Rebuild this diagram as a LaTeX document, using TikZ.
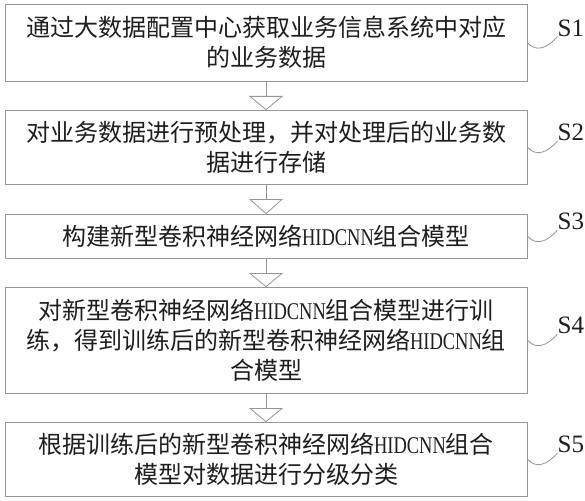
\documentclass[tikz,border=0pt]{standalone}
\usepackage{fontspec}
\setmainfont{Liberation Serif}
\newfontfamily\cjk{Noto Sans CJK SC}
\newfontfamily\latn[FakeStretch=0.77]{Liberation Serif}
\usetikzlibrary{calc}
\definecolor{lin}{RGB}{150,150,150}
\definecolor{txt}{RGB}{30,30,30}
\newcommand{\hid}{{\latn HIDCNN}}
\begin{document}
\begin{tikzpicture}[x=1pt,y=-1pt,
  box/.style={draw=lin, line width=0.8pt, minimum width=522pt, inner sep=0pt, align=center, font=\cjk\fontsize{24}{30}\selectfont, text=txt},
  conn/.style={draw=lin, line width=0.8pt},
  slabel/.style={inner sep=0pt, font=\fontsize{25}{25}\selectfont, text=txt}]
\useasboundingbox (0,0) rectangle (585,500);
\fill[white] (0,0) rectangle (585,500);
\node[box, minimum height=77pt] (b1) at (266,42.5) {通过大数据配置中心获取业务信息系统中对应\\的业务数据};
\node[box, minimum height=74pt] (b2) at (266,147) {对业务数据进行预处理，并对处理后的业务数\\据进行存储};
\node[box, minimum height=44pt] (b3) at (266,236) {构建新型卷积神经网络\hid 组合模型};
\node[box, minimum height=106pt] (b4) at (266,340) {对新型卷积神经网络\hid 组合模型进行训\\练，得到训练后的新型卷积神经网络\hid 组\\合模型};
\node[box, minimum height=74pt] (b5) at (266,459) {根据训练后的新型卷积神经网络\hid 组合\\模型对数据进行分级分类};
\foreach \a/\b in {b1/b2,b2/b3,b3/b4,b4/b5}{
  \coordinate (t\a) at ($(\a.south)+(0,15)$);
  \draw[conn] (\a.south) -- (t\a);
  \draw[conn, fill=white] ($(t\a)+(-16,0)$) -- ($(t\a)+(16,0)$) -- (\b.north) -- cycle;
}
\foreach \i in {1,...,5}{
  \node[slabel, anchor=south west] (s\i) at ($(b\i.east)+(30,-6)$) {S\i};
  \draw[conn] (b\i.east) .. controls +(8,10) and +(-10,12) .. (s\i.south west);
}
\end{tikzpicture}
\end{document}
